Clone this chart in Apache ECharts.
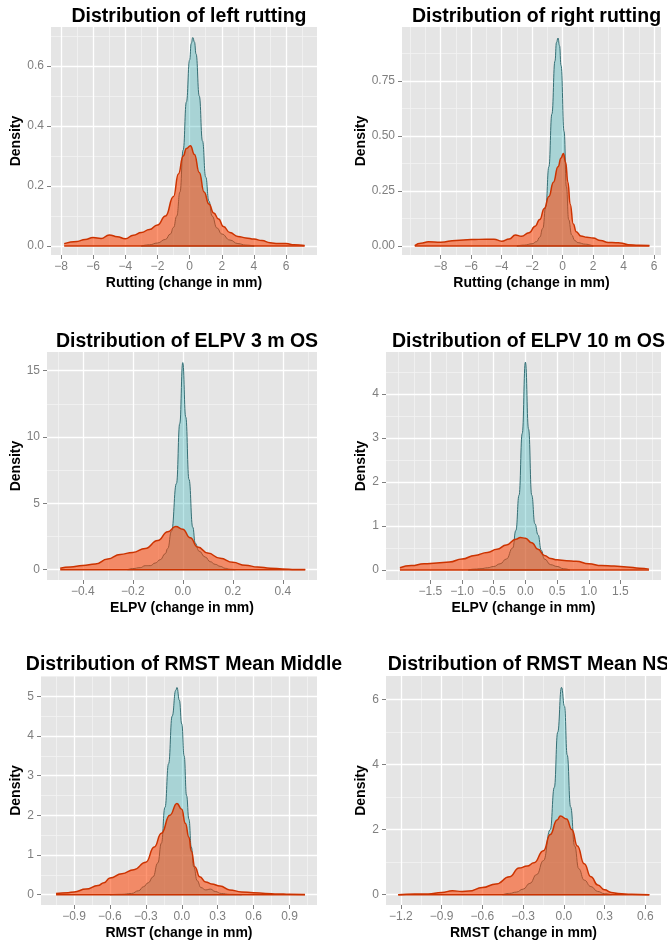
<!DOCTYPE html>
<html><head><meta charset="utf-8">
<script src="https://cdn.jsdelivr.net/npm/echarts@6/dist/echarts.min.js"></script>
<style>html,body{margin:0;padding:0;background:#fff}#c{width:667px;height:942px}</style>
</head><body><div id="c"></div><script>
// ---------- DATA (density estimates) ----------
const leftRuttingTeal = [[-3.0,0.000],[-2.5,0.004],[-2.0,0.010],[-1.5,0.022],[-1.2,0.040],[-1.0,0.062],[-0.8,0.10],[-0.6,0.18],[-0.4,0.32],[-0.2,0.48],[0.0,0.62],[0.1,0.675],[0.2,0.695],[0.3,0.68],[0.4,0.64],[0.6,0.50],[0.8,0.35],[1.0,0.23],[1.2,0.15],[1.4,0.10],[1.7,0.06],[2.0,0.04],[2.5,0.02],[3.0,0.008],[3.5,0.003],[4.0,0.0]];
const leftRuttingOrange = [[-7.8,0.008],[-7.0,0.015],[-6.5,0.022],[-6.0,0.028],[-5.5,0.025],[-5.0,0.037],[-4.5,0.031],[-4.0,0.024],[-3.5,0.036],[-3.0,0.045],[-2.5,0.055],[-2.0,0.07],[-1.5,0.10],[-1.0,0.165],[-0.7,0.24],[-0.4,0.30],[-0.2,0.325],[0.05,0.334],[0.3,0.305],[0.6,0.245],[0.9,0.18],[1.2,0.14],[1.5,0.11],[1.8,0.09],[2.1,0.065],[2.5,0.045],[3.0,0.032],[3.5,0.027],[4.0,0.023],[4.5,0.018],[5.0,0.011],[5.5,0.008],[6.0,0.008],[6.5,0.004],[7.15,0.002]];
const leftRuttingXTicks = [-8,-6,-4,-2,0,2,4,6];
const leftRuttingYTicks = [0,0.2,0.4,0.6];

const rightRuttingTeal = [[-3.0,0.0],[-2.5,0.004],[-2.0,0.01],[-1.7,0.02],[-1.5,0.04],[-1.3,0.08],[-1.1,0.18],[-0.9,0.36],[-0.7,0.6],[-0.5,0.84],[-0.4,0.925],[-0.3,0.945],[-0.2,0.91],[-0.1,0.82],[0.1,0.52],[0.25,0.27],[0.4,0.12],[0.6,0.05],[0.8,0.025],[1.0,0.015],[1.5,0.008],[2.0,0.0]];
const rightRuttingOrange = [[-9.7,0.002],[-9.3,0.012],[-8.8,0.019],[-8.0,0.017],[-7.0,0.025],[-6.0,0.029],[-5.0,0.031],[-4.5,0.031],[-4.0,0.022],[-3.5,0.032],[-3.1,0.05],[-2.7,0.044],[-2.2,0.06],[-1.8,0.09],[-1.5,0.12],[-1.2,0.17],[-0.9,0.225],[-0.6,0.29],[-0.3,0.36],[-0.1,0.40],[0.05,0.42],[0.2,0.38],[0.35,0.29],[0.5,0.19],[0.7,0.10],[0.9,0.065],[1.2,0.045],[1.6,0.04],[2.0,0.036],[2.5,0.025],[3.0,0.016],[3.5,0.015],[3.8,0.014],[4.3,0.006],[5.0,0.003],[5.7,0.002]];
const rightRuttingXTicks = [-8,-6,-4,-2,0,2,4,6];
const rightRuttingYTicks = [0,0.25,0.5,0.75];

const elpv3Teal = [[-0.22,0.0],[-0.2,0.08],[-0.17,0.15],[-0.15,0.3],[-0.13,0.3],[-0.11,0.5],[-0.09,0.75],[-0.07,1.2],[-0.06,1.6],[-0.045,2.9],[-0.025,6.5],[-0.012,11.0],[0.0,15.6],[0.012,11.5],[0.025,6.8],[0.04,3.2],[0.05,2.0],[0.065,1.4],[0.09,0.95],[0.11,0.6],[0.13,0.4],[0.15,0.25],[0.17,0.1],[0.19,0.03],[0.21,0.0]];
const elpv3Orange = [[-0.49,0.1],[-0.45,0.2],[-0.4,0.32],[-0.35,0.42],[-0.3,0.8],[-0.25,1.15],[-0.2,1.3],[-0.15,1.6],[-0.1,2.2],[-0.06,2.85],[-0.028,3.25],[0.0,3.05],[0.03,2.4],[0.06,1.7],[0.1,1.25],[0.15,0.85],[0.2,0.55],[0.25,0.33],[0.3,0.2],[0.35,0.11],[0.4,0.05],[0.45,0.02],[0.49,0.01]];
const elpv3XTicks = [-0.4,-0.2,0,0.2,0.4];
const elpv3YTicks = [0,5,10,15];

const elpv10Teal = [[-0.9,0.0],[-0.8,0.02],[-0.7,0.03],[-0.6,0.05],[-0.5,0.08],[-0.4,0.14],[-0.3,0.25],[-0.2,0.5],[-0.15,0.9],[-0.1,1.7],[-0.05,3.1],[0.0,4.72],[0.05,3.2],[0.1,1.7],[0.15,1.05],[0.2,0.8],[0.25,0.45],[0.3,0.25],[0.4,0.12],[0.5,0.08],[0.6,0.03],[0.7,0.0]];
const elpv10Orange = [[-1.98,0.05],[-1.8,0.1],[-1.6,0.14],[-1.4,0.16],[-1.2,0.18],[-1.0,0.25],[-0.8,0.33],[-0.6,0.4],[-0.45,0.47],[-0.3,0.57],[-0.15,0.7],[-0.08,0.74],[0.0,0.72],[0.1,0.62],[0.2,0.47],[0.3,0.33],[0.4,0.26],[0.5,0.23],[0.65,0.21],[0.8,0.2],[1.0,0.14],[1.2,0.1],[1.4,0.09],[1.6,0.07],[1.8,0.04],[1.95,0.02]];
const elpv10XTicks = [-1.5,-1,-0.5,0,0.5,1,1.5];
const elpv10YTicks = [0,1,2,3,4];

const rmstMiddleTeal = [[-0.6,0.0],[-0.5,0.01],[-0.42,0.03],[-0.36,0.1],[-0.32,0.2],[-0.28,0.3],[-0.24,0.45],[-0.2,0.8],[-0.17,1.3],[-0.14,2.2],[-0.11,3.3],[-0.08,4.5],[-0.05,5.15],[-0.04,5.22],[-0.02,4.9],[0.0,4.3],[0.02,3.5],[0.04,2.5],[0.06,1.9],[0.08,1.2],[0.1,0.7],[0.13,0.35],[0.16,0.18],[0.2,0.12],[0.24,0.14],[0.28,0.08],[0.33,0.03],[0.4,0.01],[0.5,0.0]];
const rmstMiddleOrange = [[-1.05,0.03],[-0.95,0.05],[-0.9,0.07],[-0.8,0.14],[-0.7,0.23],[-0.65,0.3],[-0.6,0.42],[-0.5,0.53],[-0.4,0.63],[-0.3,0.82],[-0.23,1.2],[-0.17,1.55],[-0.1,2.0],[-0.04,2.3],[0.0,2.15],[0.03,1.8],[0.06,1.45],[0.08,1.1],[0.11,0.7],[0.15,0.45],[0.2,0.32],[0.25,0.27],[0.32,0.22],[0.4,0.12],[0.5,0.07],[0.6,0.05],[0.7,0.03],[0.8,0.02],[0.9,0.01],[1.03,0.005]];
const rmstMiddleXTicks = [-0.9,-0.6,-0.3,0,0.3,0.6,0.9];
const rmstMiddleYTicks = [0,1,2,3,4,5];

const rmstNsTeal = [[-0.45,0.0],[-0.4,0.04],[-0.35,0.08],[-0.3,0.17],[-0.25,0.35],[-0.2,0.62],[-0.15,1.05],[-0.1,2.0],[-0.07,3.3],[-0.045,5.0],[-0.017,6.38],[0.005,5.8],[0.025,4.3],[0.05,2.7],[0.08,1.5],[0.11,0.8],[0.15,0.45],[0.2,0.25],[0.25,0.1],[0.3,0.03],[0.35,0.0]];
const rmstNsOrange = [[-1.22,0.0],[-1.1,0.02],[-1.0,0.02],[-0.9,0.07],[-0.82,0.12],[-0.75,0.1],[-0.7,0.11],[-0.6,0.22],[-0.5,0.33],[-0.4,0.55],[-0.33,0.82],[-0.27,0.88],[-0.22,0.98],[-0.15,1.35],[-0.1,1.85],[-0.05,2.3],[-0.025,2.42],[0.02,2.33],[0.06,2.0],[0.1,1.5],[0.15,0.95],[0.2,0.55],[0.25,0.3],[0.3,0.15],[0.35,0.07],[0.4,0.04],[0.5,0.01],[0.63,0.0]];
const rmstNsXTicks = [-1.2,-0.9,-0.6,-0.3,0,0.3,0.6];
const rmstNsYTicks = [0,2,4,6];

// ---------- LAYOUT ----------
const FONT = 'Liberation Sans, Arial, Helvetica, sans-serif';
const panels = [
  {title:'Distribution of left rutting', xName:'Rutting (change in mm)', teal:leftRuttingTeal, orange:leftRuttingOrange, xt:leftRuttingXTicks, yt:leftRuttingYTicks, xDec:0, yDec:1,
   box:{left:51,top:27,width:266,height:228}, xr:[-8.62,7.92], yr:[-0.03,0.73], yGap:26, titleTop:2},
  {title:'Distribution of right rutting', xName:'Rutting (change in mm)', teal:rightRuttingTeal, orange:rightRuttingOrange, xt:rightRuttingXTicks, yt:rightRuttingYTicks, xDec:0, yDec:2,
   box:{left:402,top:27,width:259,height:228}, xr:[-10.54,6.46], yr:[-0.041,0.995], yGap:34, titleTop:2},
  {title:'Distribution of ELPV 3 m OS', xName:'ELPV (change in mm)', teal:elpv3Teal, orange:elpv3Orange, xt:elpv3XTicks, yt:elpv3YTicks, xDec:1, yDec:0,
   box:{left:47,top:352,width:270,height:228}, xr:[-0.543,0.537], yr:[-0.78,16.4], yGap:23, titleTop:327},
  {title:'Distribution of ELPV 10 m OS', xName:'ELPV (change in mm)', teal:elpv10Teal, orange:elpv10Orange, xt:elpv10XTicks, yt:elpv10YTicks, xDec:1, yDec:0,
   box:{left:386,top:352,width:275,height:228}, xr:[-2.2,2.14], yr:[-0.227,4.95], yGap:18, titleTop:327},
  {title:'Distribution of RMST Mean Middle', xName:'RMST (change in mm)', teal:rmstMiddleTeal, orange:rmstMiddleOrange, xt:rmstMiddleXTicks, yt:rmstMiddleYTicks, xDec:1, yDec:0,
   box:{left:41,top:676,width:276,height:229}, xr:[-1.176,1.13], yr:[-0.26,5.51], yGap:17, titleTop:650},
  {title:'Distribution of RMST Mean NS', xName:'RMST (change in mm)', teal:rmstNsTeal, orange:rmstNsOrange, xt:rmstNsXTicks, yt:rmstNsYTicks, xDec:1, yDec:0,
   box:{left:386,top:676,width:275,height:229}, xr:[-1.31,0.716], yr:[-0.317,6.73], yGap:18, titleTop:650}
];

function minorOf(ticks, range) {
  const step = ticks[1] - ticks[0];
  const ext = [ticks[0] - step].concat(ticks, [ticks[ticks.length - 1] + step]);
  const out = [];
  for (let i = 0; i < ext.length; i++) {
    if (i > 0) out.push(+((ext[i-1] + ext[i]) / 2).toFixed(6));
    if (i === 0 || i === ext.length - 1) out.push(+ext[i].toFixed(6));
  }
  return out.filter(v => v >= range[0] && v <= range[1]);
}
function fmt(dec) { return v => Number(v).toFixed(dec).replace('-', '\u2212'); }

const grid = [], xAxis = [], yAxis = [], series = [], title = [];
const GREY = '#7F7F7F';
panels.forEach((p, i) => {
  grid.push(Object.assign({show:true, backgroundColor:'#E5E5E5', borderWidth:0, z:0}, p.box));
  title.push({text:p.title, left:p.box.left + p.box.width / 2, top:p.titleTop, textAlign:'center',
    textStyle:{fontFamily:FONT, fontSize:19.5, fontWeight:'bold', color:'#000'}});
  xAxis[i] = {type:'value', gridIndex:i, min:p.xr[0], max:p.xr[1], z:2,
    axisLine:{show:false, onZero:false},
    axisTick:{show:true, length:4, lineStyle:{color:GREY, width:1}, customValues:p.xt},
    axisLabel:{customValues:p.xt, formatter:fmt(p.xDec), color:GREY, fontSize:12, fontFamily:FONT, margin:6},
    splitLine:{show:true, lineStyle:{color:'#FFFFFF', width:1.3}},
    name:p.xName, nameLocation:'middle', nameGap:21,
    nameTextStyle:{fontFamily:FONT, fontSize:14, fontWeight:'bold', color:'#000'}};
  yAxis[i] = {type:'value', gridIndex:i, min:p.yr[0], max:p.yr[1], z:2,
    axisLine:{show:false, onZero:false},
    axisTick:{show:true, length:4, lineStyle:{color:GREY, width:1}, customValues:p.yt},
    axisLabel:{customValues:p.yt, formatter:fmt(p.yDec), color:GREY, fontSize:12, fontFamily:FONT, margin:7},
    splitLine:{show:true, lineStyle:{color:'#FFFFFF', width:1.3}},
    name:'Density', nameLocation:'middle', nameGap:p.yGap,
    nameTextStyle:{fontFamily:FONT, fontSize:14, fontWeight:'bold', color:'#000'}};
  xAxis[6 + i] = {type:'value', gridIndex:i, min:p.xr[0], max:p.xr[1], z:1,
    axisLine:{show:false, onZero:false}, axisTick:{show:false, customValues:minorOf(p.xt, p.xr)},
    axisLabel:{show:false}, splitLine:{show:true, lineStyle:{color:'#F2F2F2', width:0.8}}};
  yAxis[6 + i] = {type:'value', gridIndex:i, min:p.yr[0], max:p.yr[1], z:1,
    axisLine:{show:false, onZero:false}, axisTick:{show:false, customValues:minorOf(p.yt, p.yr)},
    axisLabel:{show:false}, splitLine:{show:true, lineStyle:{color:'#F2F2F2', width:0.8}}};

  const groups = [
    {data:p.teal, line:'#356F75', lw:1, fill:'rgba(26,169,176,0.3)'},
    {data:p.orange, line:'#CC3300', lw:1.5, fill:'rgba(253,64,0,0.55)'}
  ];
  groups.forEach((g, k) => {
    series.push({type:'line', name:k ? 'orange' : 'teal', xAxisIndex:i, yAxisIndex:i, data:g.data,
      smooth:0.5, smoothMonotone:'x', symbol:'none', silent:true, z:3 + k,
      lineStyle:{color:g.line, width:g.lw}, areaStyle:{color:g.fill, opacity:1, origin:0}});
    series.push({type:'line', xAxisIndex:i, yAxisIndex:i, silent:true, symbol:'none', z:3 + k,
      data:[[g.data[0][0], 0], [g.data[g.data.length - 1][0], 0]],
      lineStyle:{color:g.line, width:g.lw}});
  });
});

const chart = echarts.init(document.getElementById('c'), null, {renderer:'canvas'});
chart.setOption({animation:false, backgroundColor:'#FFFFFF', title, grid, xAxis, yAxis, series});
</script></body></html>
